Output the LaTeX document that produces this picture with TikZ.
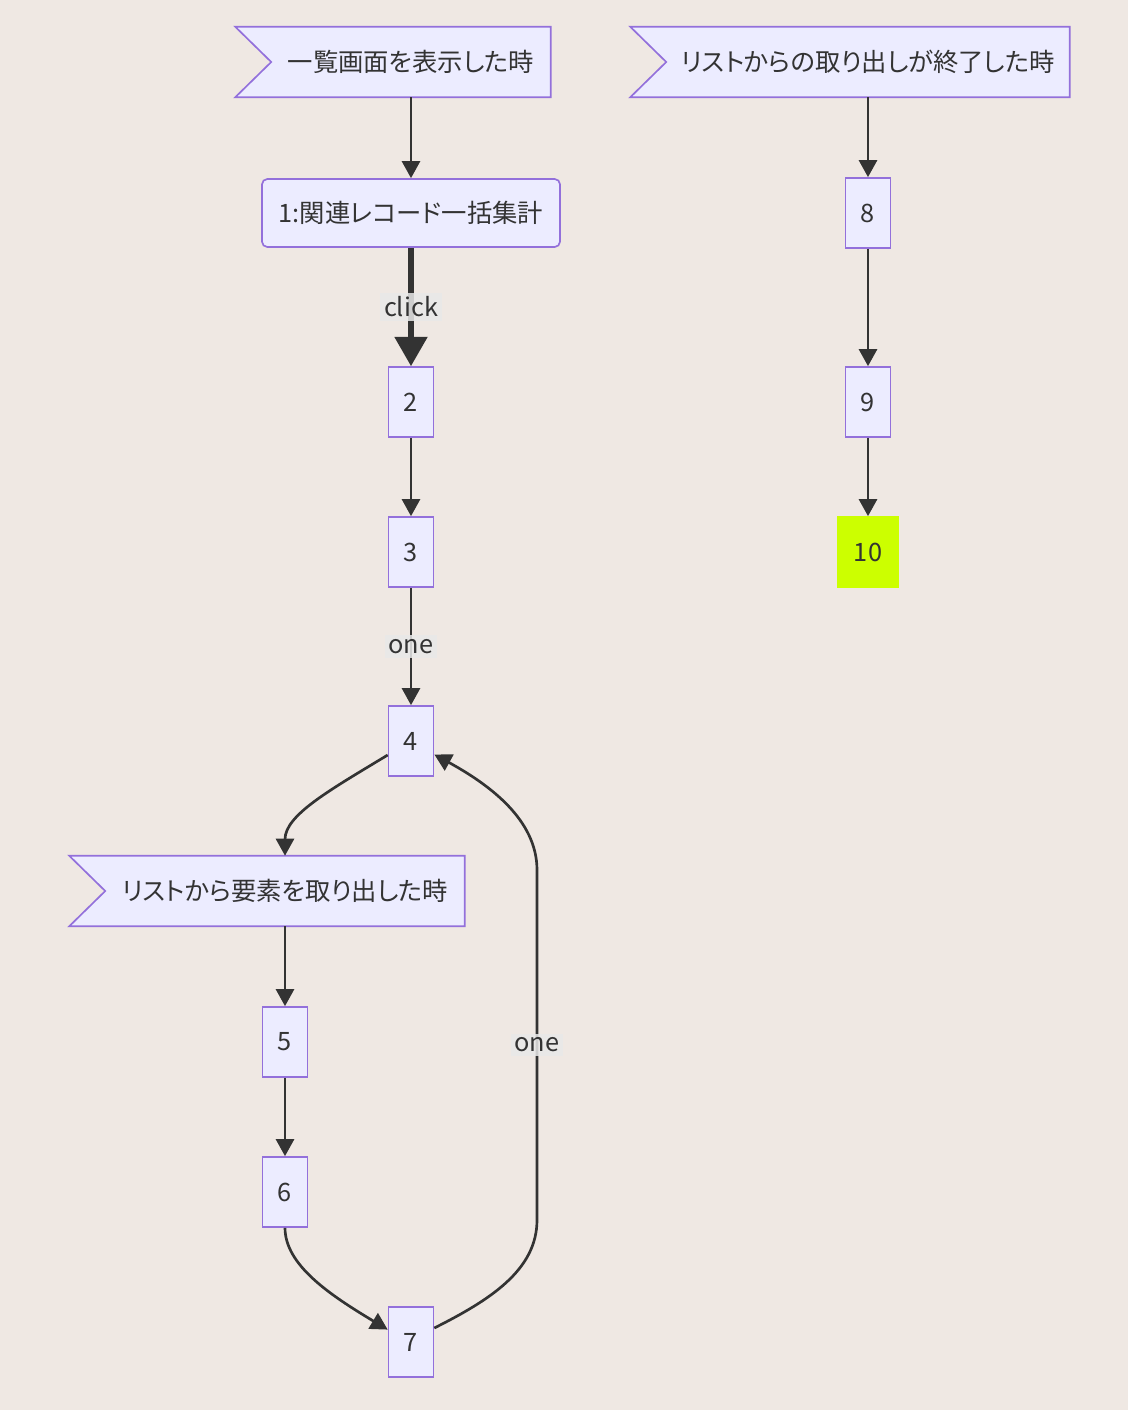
\documentclass[tikz,border=0pt]{standalone}
\usepackage{fontspec}
\setmainfont{Noto Sans CJK JP}[RawFeature=+palt]
\usetikzlibrary{arrows.meta,backgrounds,calc}
\definecolor{PageBg}{RGB}{239,232,227}
\definecolor{BoxFill}{RGB}{236,236,255}
\definecolor{BoxLine}{RGB}{147,112,219}
\definecolor{InkGray}{RGB}{51,51,51}
\definecolor{LabelBg}{RGB}{232,232,232}
\definecolor{DoneLime}{RGB}{204,255,0}
\tikzset{
  basebox/.style={rectangle,draw=BoxLine,fill=BoxFill,line width=1.25pt,
    text=InkGray,inner sep=0pt,align=center,
    font=\fontsize{19pt}{23pt}\selectfont},
  stepbox/.style={basebox,minimum width=33.75pt,minimum height=52.5pt},
  rulebox/.style={basebox,rounded corners=4pt,
    minimum width=223.5pt,minimum height=51pt},
  donebox/.style={stepbox,fill=DoneLime,draw=DoneLime,minimum width=45pt},
  evtbox/.style={rectangle,inner sep=0pt,text=InkGray,minimum height=52.5pt,
    font=\fontsize{19pt}{23pt}\selectfont},
  flag/.style={draw=BoxLine,fill=BoxFill,line width=1.25pt},
  arrow/.style={-{Triangle[width=13.5pt,length=12.75pt]},line width=2pt,draw=InkGray},
  thickarrow/.style={-{Triangle[width=24pt,length=22pt]},line width=4pt,draw=InkGray},
  lbl/.style={fill=LabelBg,fill opacity=0.85,text opacity=1,text=InkGray,
    inner sep=3pt,font=\fontsize{19pt}{23pt}\selectfont}
}
% flag outline with the notch on the left
\newcommand\evtflag[1]{%
  \draw[flag] ($(#1.north west)+(-36,0)$) -- (#1.north east) -- (#1.south east)
    -- ($(#1.south west)+(-36,0)$) -- (#1.west) -- cycle;}

\begin{document}
\begin{tikzpicture}[x=0.75pt,y=-0.75pt]
  \useasboundingbox (0,0) rectangle (1128,1410);
  \begin{scope}[on background layer]
    \fill[PageBg] (0,0) rectangle (1128,1410);
  \end{scope}

  % left column
  \node[evtbox,minimum width=209.25pt] (show) at (411,62) {一覧画面を表示した時};
  \node[rulebox] (agg) at (411,213) {1:関連レコード一括集計};
  \node[stepbox] (n2) at (411,402) {2};
  \node[stepbox] (n3) at (411,552) {3};
  \node[stepbox] (n4) at (411,741) {4};
  \node[evtbox,minimum width=269.25pt] (item) at (285,891) {リストから要素を取り出した時};
  \node[stepbox] (n5) at (285,1042) {5};
  \node[stepbox] (n6) at (285,1192) {6};
  \node[stepbox] (n7) at (411,1342) {7};

  % right column
  \node[evtbox,minimum width=302.25pt] (finish) at (868,62) {リストからの取り出しが終了した時};
  \node[stepbox] (n8) at (868,213) {8};
  \node[stepbox] (n9) at (868,402) {9};
  \node[donebox] (n10) at (868,552) {10};

  \begin{scope}[on background layer]
    \evtflag{show}
    \evtflag{item}
    \evtflag{finish}
  \end{scope}

  \draw[arrow] (show) -- (agg);
  \draw[thickarrow] (agg) -- node[lbl] {click} (n2);
  \draw[arrow] (n2) -- (n3);
  \draw[arrow] (n3) -- node[lbl] {one} (n4);
  \draw[arrow] (n4.211) .. controls (330,790) and (285,815) .. (item.north);
  \draw[arrow] (item) -- (n5);
  \draw[arrow] (n5) -- (n6);
  \draw[arrow] (n6.south) .. controls (285,1265) and (330,1295) .. (n7.152);
  \draw[arrow] (n7.31) .. controls (490,1300) and (537,1270) .. (537,1220)
    -- node[lbl] {one} (537,870) .. controls (537,820) and (490,785) .. (n4.330);
  \foreach \a/\b in {finish/n8,n8/n9,n9/n10}
    \draw[arrow] (\a) -- (\b);
\end{tikzpicture}
\end{document}
